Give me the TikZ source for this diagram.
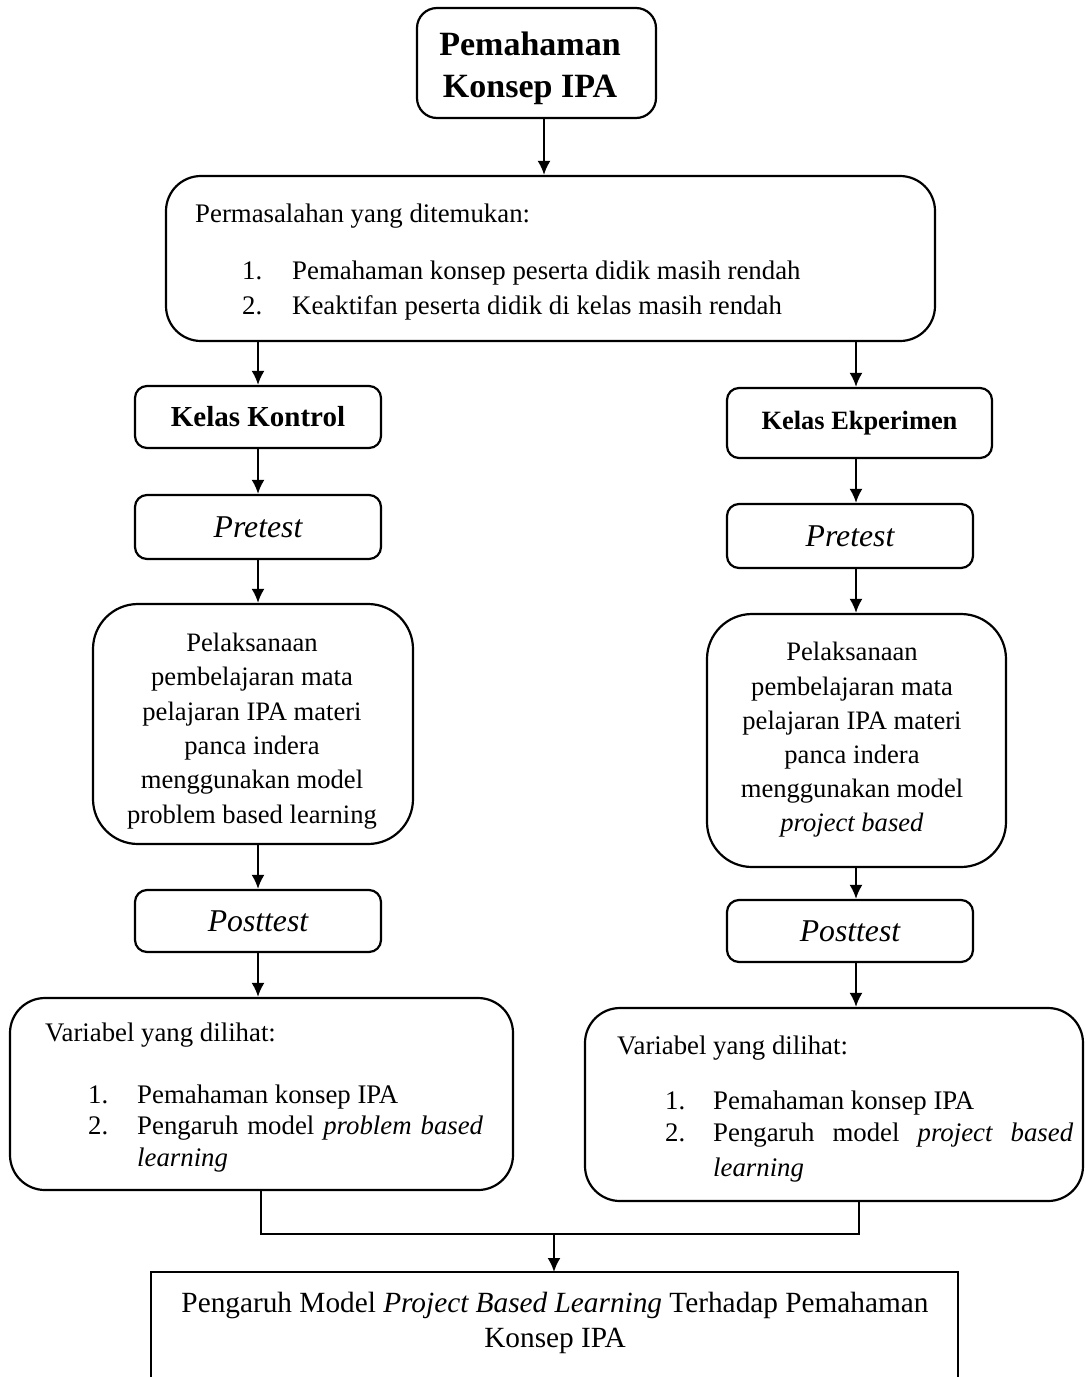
\documentclass[tikz,border=0pt]{standalone}
\usepackage{fontspec}
\setmainfont{Liberation Serif}
\usetikzlibrary{arrows.meta}
\newcommand{\bodyfs}{\fontsize{26.8}{34.5}\selectfont}
\begin{document}
\begin{tikzpicture}[x=1pt,y=-1pt,
  bx/.style={draw, line width=2.2pt, rounded corners=#1, inner sep=0pt},
  bx/.default=12pt,
  arr/.style={line width=2.2pt, -{Latex[length=14pt,width=13pt]}},
  ln/.style={line width=2.2pt},
  txt/.style={font=\bodyfs, inner sep=0pt, anchor=base west},
  ]
\useasboundingbox (0,0) rectangle (1086,1377);
% column coordinates
\coordinate (xT) at (544,0);
\coordinate (xL) at (258,0);
\coordinate (xR) at (856,0);
% top box
\node[bx=20pt, minimum width=239pt, minimum height=110pt] (top) at (536.5,63) {};
\node[font=\fontsize{34}{42}\selectfont\bfseries, align=center, inner sep=0pt] (topt) at (530,68) {Pemahaman\\Konsep IPA};
% problem box
\node[bx=35pt, minimum width=769pt, minimum height=165pt] (perm) at (550.5,258.5) {};
\node[txt] (p0) at (195,222) {Permasalahan yang ditemukan:};
\node[txt] (p1n) at (242,279) {1.};
\node[txt] (p1) at (292,279) {Pemahaman konsep peserta didik masih rendah};
\node[txt] (p2n) at (242,314) {2.};
\node[txt] (p2) at (292,314) {Keaktifan peserta didik di kelas masih rendah};
% left column
\node[bx, minimum width=246pt, minimum height=62pt, font=\fontsize{29}{34}\selectfont\bfseries] (kk) at (258,417) {Kelas Kontrol};
\node[bx, minimum width=246pt, minimum height=64pt, font=\fontsize{31.7}{36}\selectfont\itshape] (preL) at (258,527) {Pretest};
\node[bx=45pt, minimum width=320pt, minimum height=240pt] (pelL) at (253,724) {};
\node[font=\fontsize{26.6}{34.4}\selectfont, align=center, inner sep=0pt] (pelLt) at (252,731) {Pelaksanaan\\pembelajaran mata\\pelajaran IPA materi\\panca indera\\menggunakan model\\problem based learning};
\node[bx, minimum width=246pt, minimum height=62pt, font=\fontsize{31.7}{36}\selectfont\itshape] (postL) at (258,921) {Posttest};
\node[bx=35pt, minimum width=503pt, minimum height=192pt] (varL) at (261.5,1094) {};
\node[txt] (vL0) at (45,1041) {Variabel yang dilihat:};
\node[txt] (vL1n) at (88,1103) {1.};
\node[txt] (vL1) at (137,1103) {Pemahaman konsep IPA};
\node[txt] (vL2n) at (88,1134) {2.};
\node[txt] (vL2) at (137,1134) {\makebox[346pt][s]{Pengaruh model \textit{problem based}}};
\node[txt] (vL3) at (137,1166) {\textit{learning}};
% right column
\node[bx, minimum width=265pt, minimum height=70pt, font=\fontsize{26.4}{32}\selectfont\bfseries] (ke) at (859.5,423) {Kelas Ekperimen};
\node[bx, minimum width=246pt, minimum height=64pt, font=\fontsize{31.7}{36}\selectfont\itshape] (preR) at (850,536) {Pretest};
\node[bx=45pt, minimum width=299pt, minimum height=253pt] (pelR) at (856.5,740.5) {};
\node[font=\fontsize{26.6}{34.2}\selectfont, align=center, inner sep=0pt] (pelRt) at (852,740) {Pelaksanaan\\pembelajaran mata\\pelajaran IPA materi\\panca indera\\menggunakan model\\\textit{project based}};
\node[bx, minimum width=246pt, minimum height=62pt, font=\fontsize{31.7}{36}\selectfont\itshape] (postR) at (850,931) {Posttest};
\node[bx=35pt, minimum width=498pt, minimum height=193pt] (varR) at (834,1104.5) {};
\node[txt] (vR0) at (617,1054) {Variabel yang dilihat:};
\node[txt] (vR1n) at (665,1109) {1.};
\node[txt] (vR1) at (713,1109) {Pemahaman konsep IPA};
\node[txt] (vR2n) at (665,1141) {2.};
\node[txt] (vR2) at (713,1141) {\makebox[360pt][s]{Pengaruh model \textit{project based}}};
\node[txt] (vR3) at (713,1176) {\textit{learning}};
% result box (open at the bottom)
\node[minimum width=807pt, minimum height=120pt, inner sep=0pt, anchor=north] (res) at (554.5,1272) {};
\draw[ln] (res.south west) -- (res.north west) -- (res.north east) -- (res.south east);
\node[font=\fontsize{29.3}{35}\selectfont, align=center, inner sep=0pt] (rest) at (555,1323) {Pengaruh Model \textit{Project Based Learning} Terhadap Pemahaman\\Konsep IPA};
% connectors
\draw[arr] (top.south -| xT) -- (perm.north -| xT);
\draw[arr] (perm.south -| xL) -- (kk.north -| xL);
\draw[arr] (perm.south -| xR) -- (ke.north -| xR);
\draw[arr] (kk.south -| xL) -- (preL.north -| xL);
\draw[arr] (preL.south -| xL) -- (pelL.north -| xL);
\draw[arr] (pelL.south -| xL) -- (postL.north -| xL);
\draw[arr] (postL.south -| xL) -- (varL.north -| xL);
\draw[arr] (ke.south -| xR) -- (preR.north -| xR);
\draw[arr] (preR.south -| xR) -- (pelR.north -| xR);
\draw[arr] (pelR.south -| xR) -- (postR.north -| xR);
\draw[arr] (postR.south -| xR) -- (varR.north -| xR);
\coordinate (j1) at (261,1234);
\coordinate (j2) at (859,1234);
\coordinate (jm) at (554,1234);
\draw[ln] (varL.south -| j1) -- (j1) -- (j2) -- (varR.south -| j2);
\draw[arr] (jm) -- (res.north -| jm);
\end{tikzpicture}
\end{document}
